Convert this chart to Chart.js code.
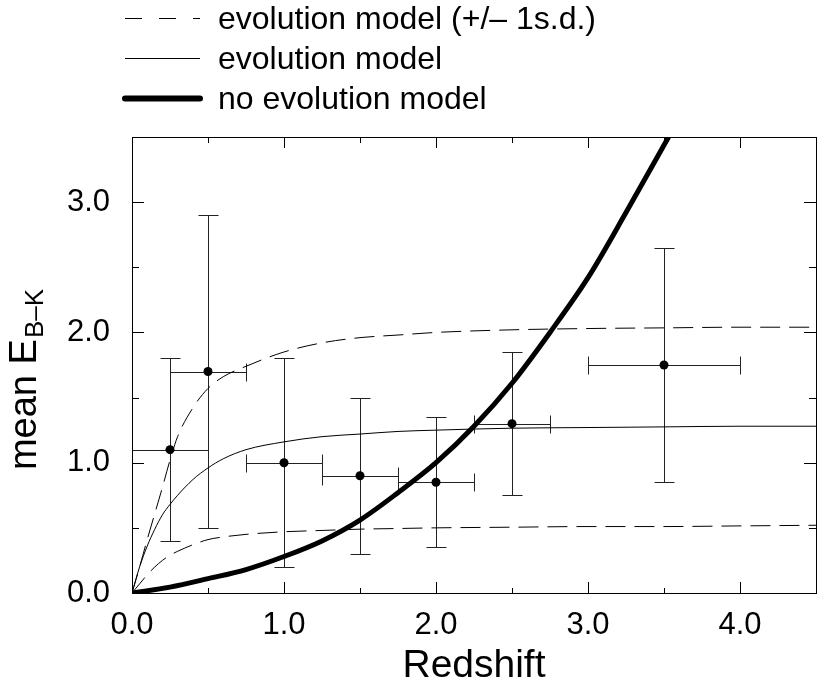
<!DOCTYPE html>
<html>
<head>
<meta charset="utf-8">
<script src="https://cdn.jsdelivr.net/npm/chart.js@4/dist/chart.umd.min.js"></script>
<style>
  html, body { margin: 0; padding: 0; background: #fff; overflow: hidden; }
  canvas { display: block; }
</style>
</head>
<body>
<canvas id="reddening" width="830" height="684"></canvas>
<script>
// model curves sampled on a redshift grid
const modelZ = [0, 0.05, 0.1, 0.15, 0.2, 0.25, 0.3, 0.4, 0.5, 0.6, 0.75, 1.0, 1.25, 1.5, 1.75, 2.0, 2.5, 3.0, 3.5, 4.0, 4.5];
const evoMean = [0, 0.2, 0.36, 0.49, 0.6, 0.68, 0.75, 0.87, 0.96, 1.03, 1.10, 1.16, 1.20, 1.22, 1.24, 1.25, 1.265, 1.27, 1.275, 1.28, 1.28];
const evoUpper = [0, 0.2, 0.41, 0.61, 0.81, 1.02, 1.2, 1.42, 1.57, 1.66, 1.74, 1.85, 1.92, 1.96, 1.98, 2.0, 2.02, 2.03, 2.035, 2.04, 2.04];
const evoLower = [0, 0.07, 0.14, 0.2, 0.25, 0.29, 0.32, 0.37, 0.41, 0.43, 0.45, 0.47, 0.48, 0.49, 0.495, 0.5, 0.505, 0.51, 0.51, 0.515, 0.52];

// no-evolution curve
const noEvoZ = [0, 0.25, 0.5, 0.75, 1.0, 1.25, 1.5, 1.75, 2.0, 2.25, 2.5, 2.75, 3.0, 3.25, 3.53];
const noEvoE = [0, 0.045, 0.11, 0.18, 0.28, 0.40, 0.56, 0.77, 1.0, 1.28, 1.61, 2.0, 2.42, 2.92, 3.5];

// binned measurements with errors
const binZ = [0.25, 0.5, 1.0, 1.5, 2.0, 2.5, 3.5];
const binZlo = [0.0, 0.25, 0.75, 1.25, 1.75, 2.25, 3.0];
const binZhi = [0.5, 0.75, 1.25, 1.75, 2.25, 2.75, 4.0];
const binE = [1.1, 1.7, 1.0, 0.9, 0.85, 1.3, 1.75];
const binElo = [0.4, 0.5, 0.2, 0.3, 0.35, 0.75, 0.85];
const binEhi = [1.8, 2.9, 1.8, 1.5, 1.35, 1.85, 2.65];

const legendLabels = ['evolution model (+/\u2013 1s.d.)', 'evolution model', 'no evolution model'];

const FONT = '"Liberation Sans", Arial, Helvetica, sans-serif';

function pts(xs, ys) {
  return xs.map((x, i) => ({ x: x, y: ys[i] }));
}

const errorBars = {
  id: 'errorBars',
  beforeDatasetsDraw(chart) {
    const { ctx, scales: { x, y } } = chart;
    const cap = 10, capX = 9;
    ctx.save();
    ctx.strokeStyle = '#222';
    ctx.lineWidth = 1;
    ctx.beginPath();
    for (let i = 0; i < binZ.length; i++) {
      const px = Math.round(x.getPixelForValue(binZ[i])) + 0.5;
      const py = Math.round(y.getPixelForValue(binE[i])) + 0.5;
      const yTop = Math.round(y.getPixelForValue(binEhi[i])) + 0.5;
      const yBot = Math.round(y.getPixelForValue(binElo[i])) + 0.5;
      const xL = Math.round(x.getPixelForValue(binZlo[i])) + 0.5;
      const xR = Math.round(x.getPixelForValue(binZhi[i])) + 0.5;
      ctx.moveTo(px, yTop); ctx.lineTo(px, yBot);
      ctx.moveTo(px - cap, yTop); ctx.lineTo(px + cap, yTop);
      ctx.moveTo(px - cap, yBot); ctx.lineTo(px + cap, yBot);
      ctx.moveTo(xL, py); ctx.lineTo(xR, py);
      ctx.moveTo(xL, py - capX); ctx.lineTo(xL, py + capX);
      ctx.moveTo(xR, py - capX); ctx.lineTo(xR, py + capX);
    }
    ctx.stroke();
    ctx.restore();
  }
};

const frameAndText = {
  id: 'frameAndText',
  afterDraw(chart) {
    const { ctx, chartArea: a, scales: { x, y } } = chart;
    ctx.save();
    ctx.strokeStyle = '#000';
    ctx.lineWidth = 1;
    ctx.strokeRect(Math.round(a.left) + 0.5, Math.round(a.top) + 0.5, Math.round(a.right - a.left), Math.round(a.bottom - a.top));

    // inward ticks on all four sides
    ctx.beginPath();
    x.ticks.forEach(t => {
      const px = Math.round(x.getPixelForValue(t.value)) + 0.5;
      const major = Math.abs(t.value % 1) < 1e-6;
      ctx.moveTo(px, a.bottom); ctx.lineTo(px, a.bottom - (major ? 11 : 5));
      ctx.moveTo(px, a.top); ctx.lineTo(px, a.top + (major ? 11 : 6));
    });
    y.ticks.forEach(t => {
      const py = Math.round(y.getPixelForValue(t.value)) + 0.5;
      const major = Math.abs(t.value % 1) < 1e-6;
      ctx.moveTo(a.left, py); ctx.lineTo(a.left + (major ? 12 : 7), py);
      ctx.moveTo(a.right, py); ctx.lineTo(a.right - (major ? 12 : 7), py);
    });
    ctx.stroke();

    // axis titles
    ctx.fillStyle = '#000';
    ctx.textBaseline = 'alphabetic';
    ctx.textAlign = 'center';
    ctx.font = '39px ' + FONT;
    ctx.fillText('Redshift', (a.left + a.right) / 2, 677);

    ctx.save();
    ctx.translate(43, 380);
    ctx.rotate(-Math.PI / 2);
    ctx.font = '38px ' + FONT;
    const main = 'mean E';
    const sub = 'B\u2013K';
    const wMain = ctx.measureText(main).width;
    ctx.font = '26px ' + FONT;
    const wSub = ctx.measureText(sub).width;
    const start = -(wMain + wSub) / 2;
    ctx.textAlign = 'left';
    ctx.font = '38px ' + FONT;
    ctx.fillText(main, start, -7);
    ctx.font = '26px ' + FONT;
    ctx.fillText(sub, start + wMain + 1, 0);
    ctx.restore();

    // legend
    const rows = [0, 2, 3];
    const rowY = [18, 58, 98];
    ctx.font = '32px ' + FONT;
    ctx.textAlign = 'left';
    ctx.textBaseline = 'middle';
    rows.forEach((di, i) => {
      const ds = chart.data.datasets[di];
      ctx.beginPath();
      ctx.strokeStyle = '#000';
      ctx.lineWidth = di === 3 ? 6 : 1;
      ctx.lineCap = di === 3 ? 'round' : 'butt';
      ctx.setLineDash(di === 0 ? [17, 17] : []);
      ctx.moveTo(125, rowY[i] + 0.5);
      ctx.lineTo(200, rowY[i] + 0.5);
      ctx.stroke();
      ctx.setLineDash([]);
      ctx.fillText(ds.label, 218, rowY[i] + 2);
    });
    ctx.restore();
  }
};

const tickFmt = v => (Math.abs(v % 1) < 1e-6 ? v.toFixed(1) : '');

new Chart('reddening', {
  type: 'scatter',
  data: {
    datasets: [
      {
        label: legendLabels[0],
        data: pts(modelZ, evoUpper),
        showLine: true, borderColor: '#000', borderWidth: 1, borderDash: [20, 9],
        pointRadius: 0, cubicInterpolationMode: 'monotone'
      },
      {
        label: legendLabels[0],
        data: pts(modelZ, evoLower),
        showLine: true, borderColor: '#000', borderWidth: 1, borderDash: [20, 9],
        pointRadius: 0, cubicInterpolationMode: 'monotone'
      },
      {
        label: legendLabels[1],
        data: pts(modelZ, evoMean),
        showLine: true, borderColor: '#000', borderWidth: 1,
        pointRadius: 0, cubicInterpolationMode: 'monotone'
      },
      {
        label: legendLabels[2],
        data: pts(noEvoZ, noEvoE),
        showLine: true, borderColor: '#000', borderWidth: 5, borderCapStyle: 'round',
        pointRadius: 0, cubicInterpolationMode: 'monotone'
      },
      {
        label: 'mean E(B-K)',
        data: pts(binZ, binE),
        showLine: false, backgroundColor: '#000', borderColor: '#000',
        pointRadius: 4.5, pointBorderWidth: 0
      }
    ]
  },
  options: {
    responsive: false,
    animation: false,
    devicePixelRatio: 1,
    layout: { padding: { top: 137, right: 4, left: 0, bottom: 0 } },
    plugins: { legend: { display: false }, tooltip: { enabled: false } },
    scales: {
      x: {
        type: 'linear', min: 0, max: 4.5,
        grid: { display: false, drawTicks: false },
        border: { display: false },
        ticks: { stepSize: 0.5, autoSkip: false, maxRotation: 0, padding: 14, color: '#000',
                 font: { family: FONT, size: 31 }, callback: tickFmt },
        afterFit(scale) { scale.height = 91; }
      },
      y: {
        type: 'linear', min: 0, max: 3.5,
        grid: { display: false, drawTicks: false },
        border: { display: false },
        ticks: { stepSize: 0.5, autoSkip: false, padding: 22, color: '#000',
                 font: { family: FONT, size: 31 }, callback: tickFmt },
        afterFit(scale) { scale.width = 132; }
      }
    }
  },
  plugins: [errorBars, frameAndText]
});
</script>
</body>
</html>
